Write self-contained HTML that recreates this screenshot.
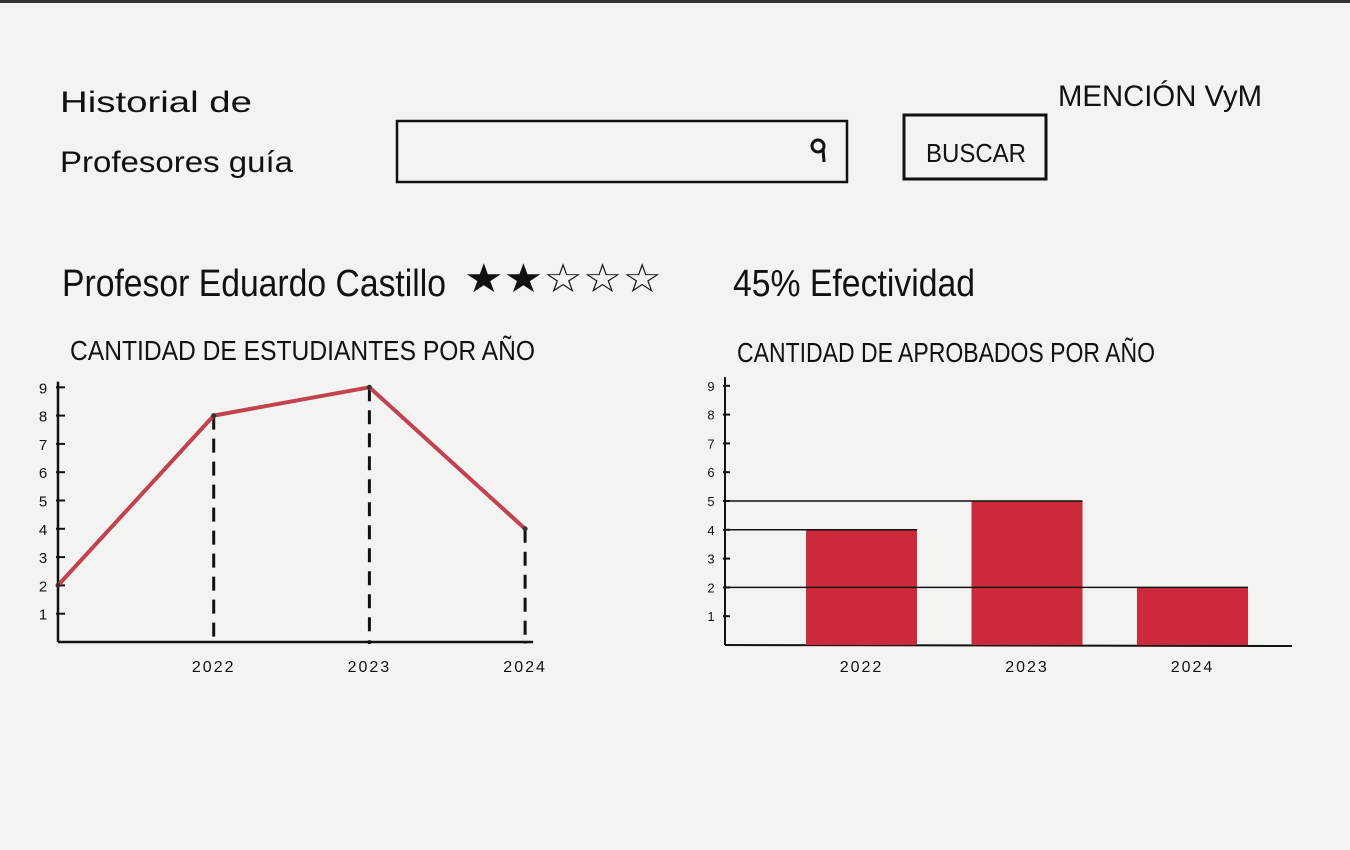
<!DOCTYPE html>
<html><head><meta charset="utf-8"><style>
html,body{margin:0;padding:0;background:#f3f3f1;}
svg{display:block;}
text{font-family:"Liberation Sans",sans-serif;fill:#111;}
</style></head><body>
<svg id="page" width="1350" height="850" viewBox="0 0 1350 850">
<rect x="0" y="0" width="1350" height="850" fill="#f3f3f1"/>
<rect x="0" y="0" width="1350" height="3" fill="#333"/>
<text x="60" y="112" font-size="30" textLength="192" lengthAdjust="spacingAndGlyphs">Historial de</text>
<text x="60" y="172" font-size="30" textLength="233" lengthAdjust="spacingAndGlyphs">Profesores guía</text>
<rect x="397" y="121" width="450" height="61" fill="none" stroke="#111" stroke-width="2.5"/>
<g><circle cx="818" cy="146" r="6" fill="none" stroke="#111" stroke-width="3"/><line x1="823" y1="149" x2="824" y2="162" stroke="#111" stroke-width="3"/></g>
<g><rect x="904" y="115" width="142" height="64" fill="none" stroke="#111" stroke-width="3"/>
<text x="926" y="162" font-size="26" textLength="100" lengthAdjust="spacingAndGlyphs">BUSCAR</text></g>
<text x="1058" y="106" font-size="30" textLength="204" lengthAdjust="spacingAndGlyphs">MENCIÓN VyM</text>
<text x="62" y="296" font-size="38" textLength="384" lengthAdjust="spacingAndGlyphs">Profesor Eduardo Castillo</text>
<text x="464" y="292" font-size="40" textLength="198" lengthAdjust="spacingAndGlyphs">★★☆☆☆</text>
<text x="733" y="296" font-size="38" textLength="242" lengthAdjust="spacingAndGlyphs">45% Efectividad</text>
<text x="70" y="360" font-size="28" textLength="465" lengthAdjust="spacingAndGlyphs">CANTIDAD DE ESTUDIANTES POR AÑO</text>
<text x="737" y="362" font-size="28" textLength="418" lengthAdjust="spacingAndGlyphs">CANTIDAD DE APROBADOS POR AÑO</text>
<g id="lineChart"></g>
<g id="barChart"></g>
</svg>
<script>
const lineCats = ['', '2022', '2023', '2024'];
const lineValues = [2, 8, 9, 4];
const lineTicks = [1, 2, 3, 4, 5, 6, 7, 8, 9];
const barCats = ['2022', '2023', '2024'];
const barValues = [4, 5, 2];
const barTicks = [1, 2, 3, 4, 5, 6, 7, 8, 9];

const NS = 'http://www.w3.org/2000/svg';
function mk(parent, tag, attrs){const e=document.createElementNS(NS,tag);for(const k in attrs)e.setAttribute(k,attrs[k]);parent.appendChild(e);return e;}

// line chart
const lg = document.getElementById('lineChart');
const lx0=58, ly0=642, lStep=155.7, lUnit=28.3;
const lxs = i => lx0 + i*lStep;
const lys = v => ly0 - v*lUnit;
let e;
e=mk(lg,'line',{x1:lx0,y1:lys(9.2),x2:lx0,y2:ly0,stroke:'#111','stroke-width':2.5});


e=mk(lg,'line',{x1:lx0,y1:ly0,x2:lxs(lineCats.length-1)+8,y2:ly0,stroke:'#111','stroke-width':2.5});


lineTicks.forEach(t=>{
  const tk=mk(lg,'line',{x1:lx0-2,y1:lys(t),x2:lx0+7,y2:lys(t),stroke:'#111','stroke-width':2});
  
  
  const tl=mk(lg,'text',{x:lx0-15,y:lys(t)+6,'font-size':15,'text-anchor':'middle'});
  tl.textContent=t;
  
  
});
lineCats.forEach((c,i)=>{
  if(!c) return;
  const dl=mk(lg,'line',{x1:lxs(i),y1:lys(lineValues[i]),x2:lxs(i),y2:ly0+2,stroke:'#111','stroke-width':3,'stroke-dasharray':'14,9'});
  
  
  const xl=mk(lg,'text',{x:lxs(i),y:ly0+30,'font-size':16,'text-anchor':'middle','letter-spacing':2});
  xl.textContent=c;
  
  
});
const pts=lineValues.map((v,i)=>lxs(i)+','+lys(v)).join(' ');
const pl=mk(lg,'polyline',{points:pts,fill:'none',stroke:'#c0434f','stroke-width':4,'stroke-linejoin':'round'});


lineValues.forEach((v,i)=>{
  const p=mk(lg,'circle',{cx:lxs(i),cy:lys(v),r:2.5,fill:'#333'});
  
  
});

// bar chart
const bg = document.getElementById('barChart');
const bx0=725, by0=645, bUnit=28.8, bStart=806, bStep=165.5, bw=111;
const bys = v => by0 - v*bUnit;
const bxs = i => bStart + i*bStep;
e=mk(bg,'line',{x1:bx0,y1:bys(9.3),x2:bx0,y2:by0,stroke:'#111','stroke-width':2});


e=mk(bg,'line',{x1:bx0,y1:by0,x2:1292,y2:by0+1,stroke:'#111','stroke-width':2});


barTicks.forEach(t=>{
  const tk=mk(bg,'line',{x1:bx0-2,y1:bys(t),x2:bx0+5,y2:bys(t),stroke:'#111','stroke-width':2});
  
  
  const tl=mk(bg,'text',{x:bx0-14,y:bys(t)+5,'font-size':13,'text-anchor':'middle'});
  tl.textContent=t;
  
  
});
barValues.forEach((v,i)=>{
  const r=mk(bg,'rect',{x:bxs(i),y:bys(v),width:bw,height:by0-bys(v),fill:'#cc2a3a'});
  
  
  const gl=mk(bg,'line',{x1:bx0,y1:bys(v),x2:bxs(i)+bw,y2:bys(v),stroke:'#111','stroke-width':1.5});
  
  
  const xl=mk(bg,'text',{x:bxs(i)+bw/2,y:by0+27,'font-size':16,'text-anchor':'middle','letter-spacing':2});
  xl.textContent=barCats[i];
  
  
});
</script>
</body></html>
